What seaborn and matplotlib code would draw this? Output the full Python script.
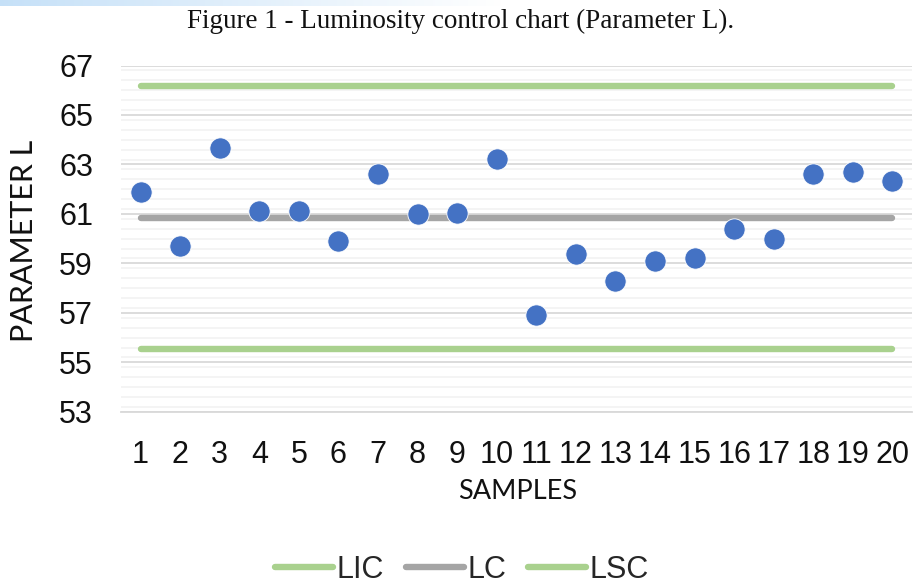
import numpy as np
import pandas as pd
import matplotlib
matplotlib.use("Agg")
import matplotlib.pyplot as plt
import seaborn as sns
from matplotlib.ticker import MultipleLocator

samples = [str(i) for i in range(1, 21)]
param_l = [61.88, 59.72, 63.68, 61.12, 61.12, 59.92, 62.60, 61.00, 61.05, 63.22,
           56.92, 59.40, 58.27, 59.10, 59.20, 60.39, 59.99, 62.60, 62.68, 62.32]
lic_value = 55.55
lc_value = 60.84
lsc_value = 66.18
y_ticks = [53, 55, 57, 59, 61, 63, 65, 67]

df = pd.DataFrame({"SAMPLES": samples, "L": param_l,
                   "LIC": [lic_value] * 20, "LC": [lc_value] * 20, "LSC": [lsc_value] * 20})

sns.set_theme(style="white")
plt.rcParams["font.family"] = ["Liberation Sans", "DejaVu Sans"]

fig = plt.figure(figsize=(9.15, 5.85), dpi=100)
ax = fig.add_axes([0.132, 0.296, 0.865, 0.592])

green = "#A9D18E"
gray = "#A5A5A5"
blue = "#4472C4"

for col, color in [("LIC", green), ("LC", gray), ("LSC", green)]:
    sns.lineplot(data=df, x="SAMPLES", y=col, ax=ax, color=color, linewidth=4.6,
                 solid_capstyle="round", label=col, sort=False, zorder=3, legend=False)
sns.scatterplot(data=df, x="SAMPLES", y="L", ax=ax, color=blue, s=235,
                edgecolor="white", linewidth=0.6, zorder=4, legend=False)

ax.set_xlim(-0.5, 19.5)
ax.set_ylim(53, 67)
ax.set_yticks(y_ticks)
ax.yaxis.set_minor_locator(MultipleLocator(0.4))
ax.grid(axis="y", which="major", color="#D9D9D9", linewidth=1.3, zorder=0)
ax.grid(axis="y", which="minor", color="#F2F2F2", linewidth=1.2, zorder=0)
ax.set_axisbelow(True)

for s in ["top", "right", "left"]:
    ax.spines[s].set_visible(False)
ax.spines["bottom"].set_color("#D9D9D9")
ax.spines["bottom"].set_linewidth(1.3)

ax.set_xticks(np.arange(-0.5, 20, 1), minor=True)
ax.set_xticks(range(20))
ax.set_xticklabels(samples)
ax.tick_params(axis="x", which="major", length=0, labelsize=22, pad=20, colors="#111111")
ax.tick_params(axis="x", which="minor", length=7, width=1.3, color="#D9D9D9", direction="out")
ax.tick_params(axis="y", which="both", length=0, labelsize=22, pad=20, colors="#111111")

ax.set_xlabel("SAMPLES", fontsize=19.5, family=["Lato", "DejaVu Sans"], color="#111111")
ax.set_ylabel("PARAMETER L", fontsize=22, family=["Lato", "DejaVu Sans"], color="#111111")
ax.xaxis.label.set_va("center")
ax.yaxis.label.set_va("center")
ax.xaxis.set_label_coords(0.502, -0.229)
ax.yaxis.set_label_coords(-0.1226, 0.495)

handles, labels = ax.get_legend_handles_labels()
fig.legend(handles, labels, loc="center", bbox_to_anchor=(462 / 915, 1 - 570 / 585), ncol=3,
           frameon=False, fontsize=22, handlelength=1.9, handletextpad=0.13,
           columnspacing=0.7, borderpad=0.0)

fig.text(0.503, 0.964, "Figure 1 - Luminosity control chart (Parameter L).",
         ha="center", va="center", fontsize=19.5, family=["Liberation Serif", "DejaVu Serif"],
         color="#111111")

# faint blue band at the very top
band = fig.add_axes([0, 1 - 6 / 585, 0.55, 6 / 585])
grad = np.zeros((1, 256, 4))
grad[..., 0] = 0.75
grad[..., 1] = 0.87
grad[..., 2] = 0.97
grad[..., 3] = np.linspace(0.9, 0.0, 256)
band.imshow(grad, aspect="auto", extent=[0, 1, 0, 1])
band.axis("off")

fig.savefig("out.png", dpi=100)
